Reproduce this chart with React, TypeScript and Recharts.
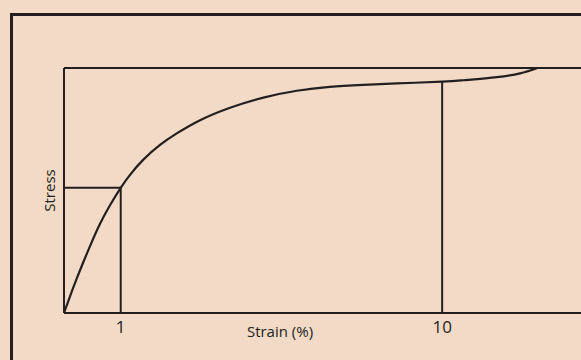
import { LineChart, Line, XAxis, YAxis, ReferenceLine } from "recharts";

// schematic stress-strain curve, x in "tick units" (1 = the "1" mark)
const strain = [
  0, 0.106, 0.224, 0.34, 0.459, 0.635, 0.811, 1.0, 1.164, 1.399, 1.693, 1.988,
  2.399, 2.928, 3.515, 4.104, 4.686, 5.273, 5.868, 6.667, 7.042, 7.631, 8.042,
  8.337,
];
const stress = [
  0, 6.8, 14.0, 20.7, 27.3, 36.4, 44.0, 51.1, 56.4, 62.6, 68.6, 73.3, 78.7,
  83.8, 87.9, 90.7, 92.3, 93.1, 93.7, 94.4, 95.0, 96.3, 97.8, 99.9,
];

const tickPos = [1, 6.667];
const tickText = ["1", "10"];

const data = strain.map((s, i) => ({ strain: s, stress: stress[i] }));

const stressAt = (x: number) => stress[strain.indexOf(x)];

const INK = "#231f20";
const BG = "#f2dac6";

export default function App() {
  const y1 = stressAt(tickPos[0]);
  const y10 = stressAt(tickPos[1]);

  return (
    <div
      style={{
        position: "fixed",
        left: 0,
        top: 0,
        width: 581,
        height: 360,
        overflow: "hidden",
        background: BG,
        fontFamily: "'Open Sans', sans-serif",
      }}
    >
      <div
        style={{
          position: "absolute",
          left: 10,
          top: 13,
          width: 700,
          height: 500,
          borderLeft: `3px solid ${INK}`,
          borderTop: `3px solid ${INK}`,
        }}
      />
      <div style={{ position: "absolute", left: 0, top: 0 }}>
        <LineChart
          width={620}
          height={360}
          data={data}
          margin={{ top: 68, right: 20, bottom: 0, left: 0 }}
        >
          <XAxis
            type="number"
            dataKey="strain"
            domain={[0, 9.45]}
            ticks={tickPos}
            tickFormatter={(v: number) => tickText[tickPos.indexOf(v)] ?? ""}
            tickLine={false}
            axisLine={{ stroke: INK, strokeWidth: 2 }}
            tick={{ fill: INK, fontSize: 17 }}
            height={47}
            label={{
              value: "Strain (%)",
              position: "center",
              dx: -52,
              dy: -5,
              fill: INK,
              fontSize: 15,
            }}
          />
          <YAxis
            type="number"
            domain={[0, 100]}
            width={64}
            tick={false}
            tickLine={false}
            axisLine={{ stroke: INK, strokeWidth: 2 }}
            label={{
              value: "Stress",
              angle: -90,
              position: "center",
              dx: 18,
              fill: INK,
              fontSize: 15,
            }}
          />
          <ReferenceLine y={100} stroke={INK} strokeWidth={2} />
          <ReferenceLine
            segment={[
              { x: tickPos[0], y: 0 },
              { x: tickPos[0], y: y1 },
            ]}
            stroke={INK}
            strokeWidth={2}
          />
          <ReferenceLine
            segment={[
              { x: 0, y: y1 },
              { x: tickPos[0], y: y1 },
            ]}
            stroke={INK}
            strokeWidth={2}
          />
          <ReferenceLine
            segment={[
              { x: tickPos[1], y: 0 },
              { x: tickPos[1], y: y10 },
            ]}
            stroke={INK}
            strokeWidth={2}
          />
          <Line
            type="natural"
            dataKey="stress"
            stroke={INK}
            strokeWidth={2.2}
            dot={false}
            isAnimationActive={false}
          />
        </LineChart>
      </div>
    </div>
  );
}
